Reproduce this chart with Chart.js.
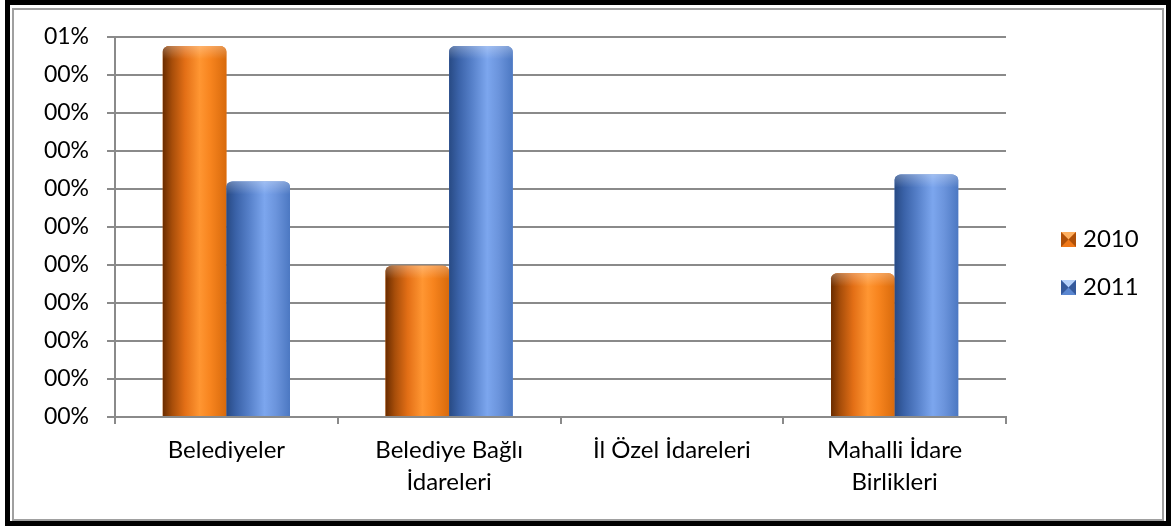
<!DOCTYPE html>
<html>
<head>
<meta charset="utf-8">
<script src="https://cdn.jsdelivr.net/npm/chart.js@4.4.1/dist/chart.umd.min.js"></script>
<style>
  html, body { margin: 0; padding: 0; background: #fff; }
  #wrap { position: relative; width: 1171px; height: 531px; overflow: hidden; }
  #kanvas { position: absolute; left: 0; top: 0; }
  .cerceve { position: absolute; box-sizing: border-box; pointer-events: none; }
  #dis { left: 5px; top: 0; width: 1166px; height: 526px; border: 5px solid #000; }
  #ic { left: 12px; top: 8px; width: 1152px; height: 513px; border: 2px solid #a0a0a0; }
</style>
</head>
<body>
<div id="wrap">
  <canvas id="kanvas" width="1171" height="531"></canvas>
  <div id="dis" class="cerceve"></div>
  <div id="ic" class="cerceve"></div>
</div>
<script>
// kategoriler ve yıllara göre oranlar
const kategoriler = ['Belediyeler', ['Belediye Bağlı', 'İdareleri'], 'İl Özel İdareleri', ['Mahalli İdare', 'Birlikleri']];
const yillar = ['2010', '2011'];
const oran2010 = [0.00488, 0.00199, 0, 0.00189];
const oran2011 = [0.00310, 0.00488, 0, 0.00319];

const gri = '#8a8a8a';
const yaziX = { family: 'Lato', size: 24, lineHeight: 1.34 };
const yaziY = { family: 'Lato', size: 23 };

// silindir görünümü için yatay renk geçişleri
const tonlar = [
  [[0, '#6a2c00'], [0.15, '#a84e0a'], [0.35, '#e36f16'], [0.58, '#ff9632'], [0.75, '#f7841e'], [1, '#d86a0c']],
  [[0, '#284a84'], [0.15, '#3a62a8'], [0.35, '#557fc8'], [0.6, '#7ca6ee'], [0.78, '#6b94dc'], [1, '#4c78c2']]
];
// efsane kutuları: açık, orta, koyu
const kutuRenk = [
  ['#ffb060', '#f07818', '#b05008'],
  ['#b4d0fa', '#5a86d0', '#34599c']
];

const silindir = {
  id: 'silindir',
  afterDatasetsDraw(chart) {
    const c = chart.ctx;
    chart.data.datasets.forEach((ds, i) => {
      chart.getDatasetMeta(i).data.forEach(bar => {
        const { x, y, base, width } = bar.getProps(['x', 'y', 'base', 'width'], true);
        const h = base - y;
        if (h < 1) return;
        const sol = x - width / 2, sag = x + width / 2;
        const rx = Math.min(7, width / 2), ry = Math.min(5, h / 2);
        c.save();
        c.beginPath();
        c.moveTo(sol, base);
        c.lineTo(sol, y + ry);
        c.ellipse(sol + rx, y + ry, rx, ry, 0, Math.PI, 1.5 * Math.PI);
        c.lineTo(sag - rx, y);
        c.ellipse(sag - rx, y + ry, rx, ry, 0, 1.5 * Math.PI, 2 * Math.PI);
        c.lineTo(sag, base);
        c.closePath();
        const g = c.createLinearGradient(sol, 0, sag, 0);
        tonlar[i].forEach(([p, col]) => g.addColorStop(p, col));
        c.fillStyle = g;
        c.fill();
        // üst kapak hafif açık
        const k = c.createLinearGradient(0, y, 0, y + 2 * ry + 3);
        k.addColorStop(0, 'rgba(255,255,255,0.28)');
        k.addColorStop(1, 'rgba(255,255,255,0)');
        c.fillStyle = k;
        c.fill();
        c.restore();
      });
    });
  }
};

function ucgen(c, a, b, d, renk) {
  c.beginPath();
  c.moveTo(a[0], a[1]);
  c.lineTo(b[0], b[1]);
  c.lineTo(d[0], d[1]);
  c.closePath();
  c.fillStyle = renk;
  c.fill();
}

function kutu(c, x, y, s, [acik, orta, koyu]) {
  const m = [x + s / 2, y + s / 2];
  c.fillStyle = orta;
  c.fillRect(x, y, s, s);
  ucgen(c, [x, y], [x + s, y], m, acik);
  ucgen(c, [x, y], [x, y + s], m, koyu);
  ucgen(c, [x + s, y], [x + s, y + s], m, koyu);
}

const efsane = {
  id: 'efsane',
  afterDraw(chart) {
    const c = chart.ctx;
    const x0 = chart.chartArea.right + 55;
    const ym = chart.height / 2 - 2;
    c.save();
    chart.data.datasets.forEach((ds, i) => {
      const yc = ym + (i - 0.5) * 48;
      kutu(c, x0, yc - 7.5, 15, kutuRenk[i]);
      c.fillStyle = '#000';
      c.font = '24px Lato';
      c.textAlign = 'left';
      c.textBaseline = 'middle';
      c.fillText(ds.label, x0 + 22, yc);
    });
    c.restore();
  }
};

const ctx = document.getElementById('kanvas').getContext('2d');
new Chart(ctx, {
  type: 'bar',
  data: {
    labels: kategoriler,
    datasets: [
      { label: yillar[0], data: oran2010, backgroundColor: '#f07818' },
      { label: yillar[1], data: oran2011, backgroundColor: '#5a86d0' }
    ]
  },
  options: {
    responsive: false,
    animation: false,
    layout: { padding: { top: 37, right: 165, bottom: 0, left: 0 } },
    datasets: {
      bar: {
        categoryPercentage: 0.571,
        barPercentage: 1,
        borderWidth: 0,
        borderRadius: { topLeft: 6, topRight: 6 },
        borderSkipped: 'bottom'
      }
    },
    plugins: {
      legend: { display: false },
      tooltip: { enabled: false }
    },
    scales: {
      x: {
        grid: { offset: true, drawOnChartArea: false, color: gri, lineWidth: 2, tickLength: 7 },
        border: { color: gri, width: 2 },
        ticks: { font: yaziX, color: '#000', padding: 10, maxRotation: 0 },
        afterFit: s => { s.height = 114; }
      },
      y: {
        min: 0,
        max: 0.005,
        ticks: {
          stepSize: 0.0005,
          font: yaziY,
          color: '#000',
          padding: 18,
          // "00%" biçimi: tam yüzdeye yuvarlanır
          callback: v => String(Math.round(Math.round(v * 10000) / 100)).padStart(2, '0') + '%'
        },
        grid: { color: gri, lineWidth: 2, tickLength: 8 },
        border: { color: gri, width: 2 },
        afterFit: s => { s.width = 115; }
      }
    }
  },
  plugins: [silindir, efsane]
});
</script>
</body>
</html>
